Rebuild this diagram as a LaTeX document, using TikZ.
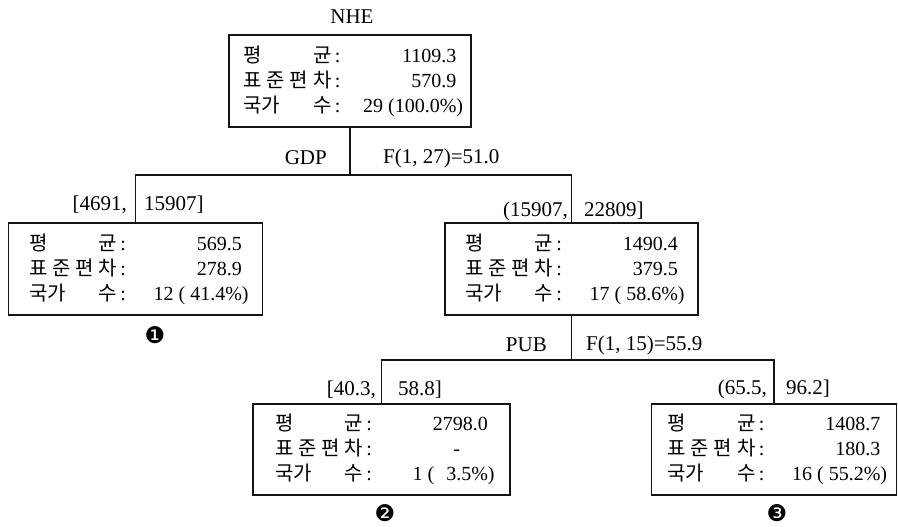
\documentclass[tikz,border=0pt]{standalone}
\usepackage{fontspec}
\setmainfont{Liberation Serif}
\newfontfamily\kr{Noto Sans CJK KR}
\newfontfamily\dingfont{DejaVu Sans}
\usepackage{tikz}
\definecolor{inkline}{RGB}{20,20,20}

\newcommand{\statline}[2]{{\kr\makebox[88pt][s]{#1}}\,:\makebox[116pt][r]{#2}}
\newcommand{\statrows}[3]{%
  \statline{평\hfill 균}{#1}\\
  \statline{표\hfill 준\hfill 편\hfill 차}{#2}\\
  \statline{국가\hfill 수}{#3}}

\begin{document}
\begin{tikzpicture}[x=1pt,y=-1pt,
  statbox/.style={draw=inkline,line width=1.3pt,align=left,inner sep=0pt,
    minimum width=254pt,minimum height=92pt,font=\fontsize{20}{25}\selectfont},
  cut/.style={font=\fontsize{21}{24}\selectfont,inner sep=1pt},
  conn/.style={draw=inkline,line width=1.3pt},
  tagnum/.style={font=\dingfont\fontsize{23}{23}\selectfont,inner sep=0pt}]
  \useasboundingbox (0,0) rectangle (898,527);
  \node[cut] (nhe) at (352,17) {NHE};
  \node[statbox,minimum width=242pt] (root) at (350,81)
    {\statrows{1109.3}{570.9}{29 (100.0\%\rlap{)}}};
  \node[statbox] (gdplow) at (135.5,269)
    {\statrows{569.5}{278.9}{12 ( 41.4\%\rlap{)}}};
  \node[statbox,minimum width=253pt] (gdphigh) at (571.5,269)
    {\statrows{1490.4}{379.5}{17 ( 58.6\%\rlap{)}}};
  \node[statbox,minimum width=257pt,minimum height=91pt] (publow) at (381.5,449.5)
    {\statrows{2798.0}{-\hspace{28pt}}{1 (\hspace{12pt}3.5\%\rlap{)}}};
  \node[statbox,minimum width=245pt,minimum height=91pt] (pubhigh) at (774,449.5)
    {\statrows{1408.7}{180.3}{16 ( 55.2\%\rlap{)}}};
  % splits
  \coordinate (gdpfork) at (350,175);
  \coordinate (pubfork) at (571.5,360);
  \draw[conn] (root.south) -- (gdpfork);
  \draw[conn] (gdplow.north) |- (gdpfork) -| (gdphigh.north);
  \draw[conn] (gdphigh.south) -- (pubfork);
  \draw[conn] (publow.north) |- (pubfork) -| (pubhigh.north);
  % split labels
  \node[cut,anchor=east] (gdp) at (328,158) {GDP};
  \node[cut,anchor=west] (fgdp) at (382,158) {F(1, 27)=51.0};
  \node[cut,anchor=east] (gdplowa) at (128,205) {[4691,};
  \node[cut,anchor=west] (gdplowb) at (143,205) {15907]};
  \node[cut,anchor=east] (gdphigha) at (569,211) {(15907,};
  \node[cut,anchor=west] (gdphighb) at (583,211) {22809]};
  \node[cut,anchor=east] (pub) at (548,345) {PUB};
  \node[cut,anchor=west] (fpub) at (585,345) {F(1, 15)=55.9};
  \node[cut,anchor=east] (publowa) at (377,390) {[40.3,};
  \node[cut,anchor=west] (publowb) at (397,390) {58.8]};
  \node[cut,anchor=east] (pubhigha) at (768,389) {(65.5,};
  \node[cut,anchor=west] (pubhighb) at (785,389) {96.2]};
  \foreach \m/\x/\y/\d in {one/155/335/❶,two/385/513/❷,three/777/513/❸}
    \node[tagnum] (\m) at (\x,\y) {\d};
\end{tikzpicture}
\end{document}
